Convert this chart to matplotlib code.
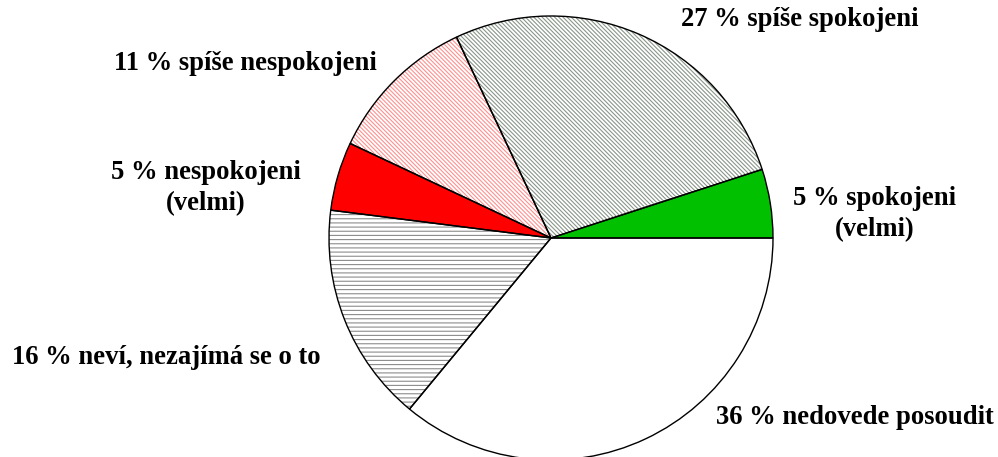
import matplotlib.pyplot as plt

# Spokojenost respondentu (v %)
labels = ['5 % spokojeni\n(velmi)', '27 % spíše spokojeni', '11 % spíše nespokojeni',
          '5 % nespokojeni\n(velmi)', '16 % neví, nezajímá se o to', '36 % nedovede posoudit']
values = [5, 27, 11, 5, 16, 36]

# barvy vyplne, barva srafovani a vzor srafovani
faces = ['#00c000', 'white', 'white', '#ff0000', 'white', 'white']
hatch_colors = ['#00c000', '#8a968a', '#ff9090', '#ff0000', '#8c8c8c', 'white']
hatches = [None, '\\' * 8, '\\' * 8, None, '----', None]

# pozice popisku (x, y v pixelech, y od spodu)
label_pos = [(875, 243), (800, 437), (245, 394), (206, 269), (166, 100), (855, 39)]

plt.rcParams['hatch.linewidth'] = 0.8

fig = plt.figure(figsize=(9.98, 4.57), dpi=100)
ax = fig.add_axes([0, 0, 1, 1])

center = (551, 219)
radius = 222

# spodni vrstva: vypln + srafovani
wedges, _ = ax.pie(values, startangle=0, counterclock=True, radius=radius,
                   center=center, frame=True)
for w, fc, hc, h in zip(wedges, faces, hatch_colors, hatches):
    w.set_facecolor(fc)
    w.set_edgecolor(hc)
    w.set_linewidth(0)
    if h:
        w.set_hatch(h)

# horni vrstva: cerne obrysy
outl, _ = ax.pie(values, startangle=0, counterclock=True, radius=radius,
                 center=center, frame=True,
                 wedgeprops=dict(facecolor='none', edgecolor='black', linewidth=1.0))

for lab, (x, y) in zip(labels, label_pos):
    ax.text(x, y, lab, ha='center', va='center', fontsize=19.2, fontweight='bold',
            family='Liberation Serif', linespacing=1.32)

ax.set_xlim(0, 998)
ax.set_ylim(0, 457)
ax.set_aspect('equal')
ax.axis('off')

fig.savefig('out.png', dpi=100)
